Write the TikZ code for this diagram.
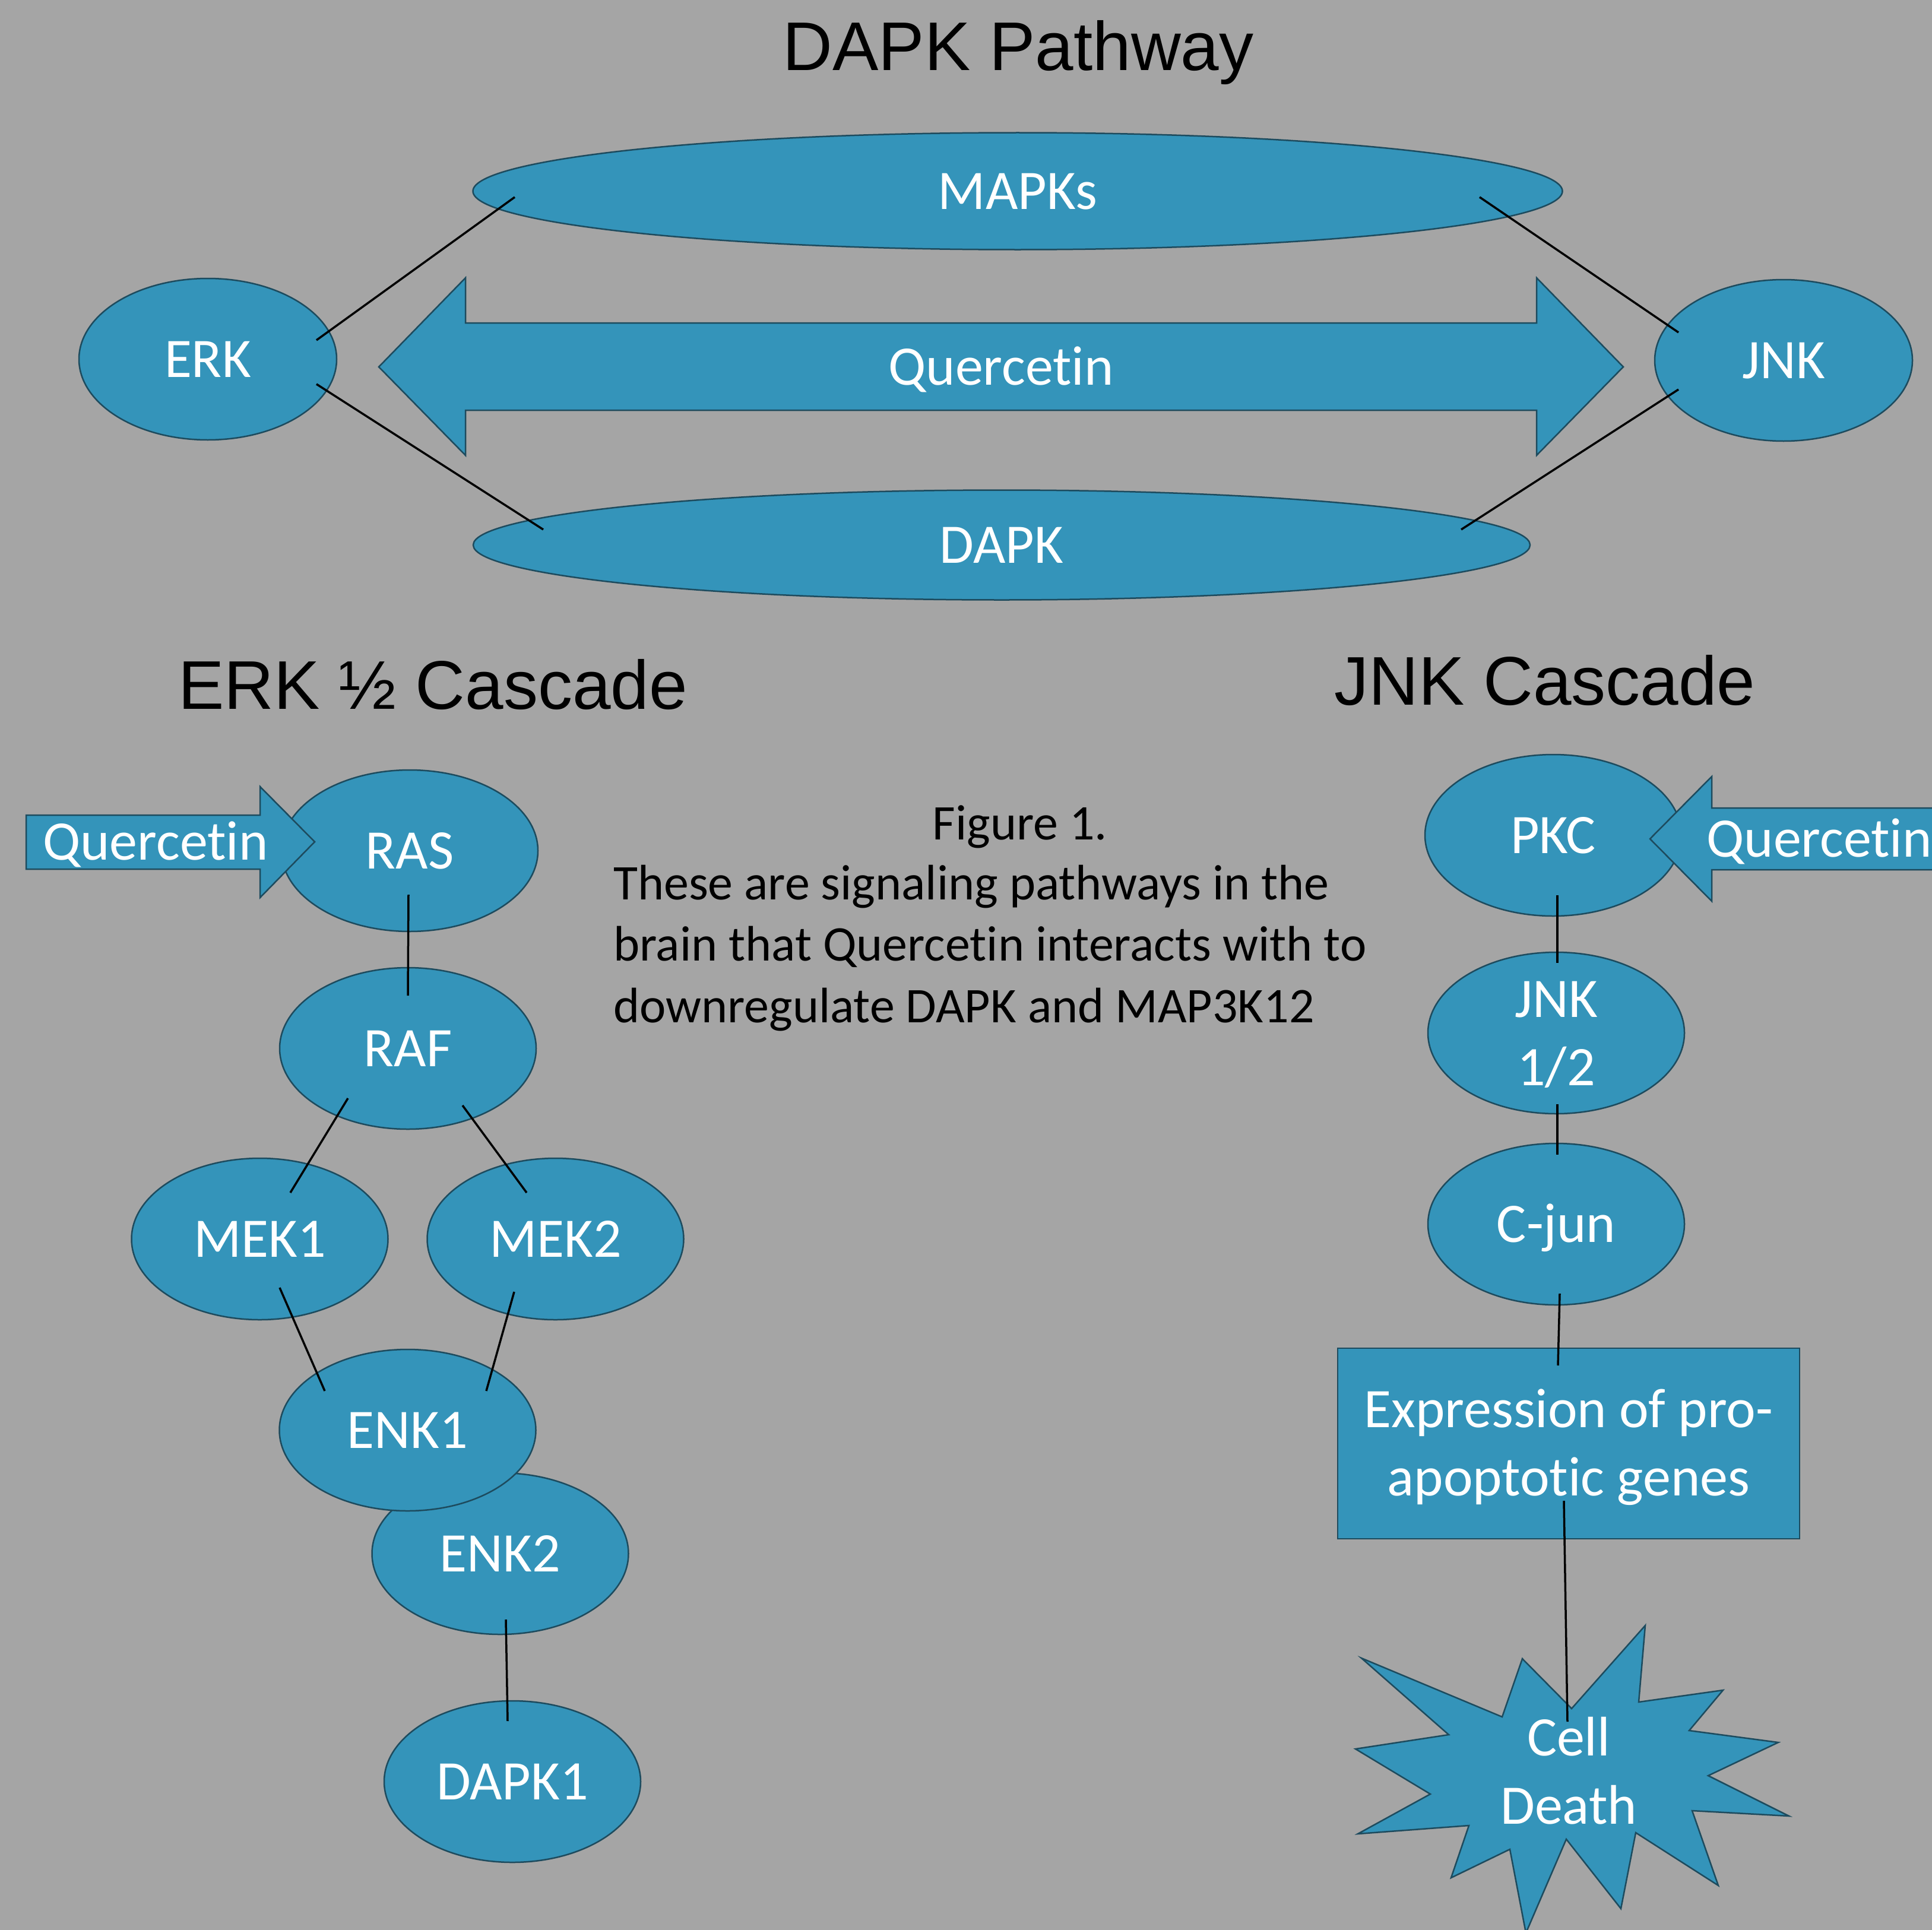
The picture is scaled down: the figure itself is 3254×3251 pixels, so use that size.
\documentclass[tikz,border=0pt]{standalone}
\usepackage{fontspec}
\setmainfont{Carlito}[Ligatures=NoCommon]
\newfontfamily\titlefont{Liberation Sans}
\usetikzlibrary{shapes.geometric}
\definecolor{bg}{HTML}{A5A5A5}
\definecolor{nodefill}{HTML}{3494BA}
\definecolor{nodeedge}{HTML}{1D4B5E}
\begin{document}
\begin{tikzpicture}[x=1pt,y=-1pt,
  shapebase/.style={fill=nodefill, draw=nodeedge, line width=2.5pt},
  shapetext/.style={text=white, font=\fontsize{94}{115}\selectfont, text height=61pt, text depth=0pt, inner sep=0pt},
  oval/.style={shapebase, shapetext, ellipse, minimum width=432pt, minimum height=272pt},
  twoline/.style={align=center, text height=176pt, text depth=0pt},
  titletext/.style={font=\titlefont\fontsize{116}{139}\selectfont, anchor=base, inner sep=0pt},
  captext/.style={font=\fontsize{84}{103.5}\selectfont, inner sep=0pt},
  conn/.style={line width=3.5pt, black}]
\useasboundingbox (0,0) rectangle (3254,3251);
\fill[bg] (0,0) rectangle (3254,3251);

% titles
\node[titletext] (t1) at (1715,119) {DAPK Pathway};
\node[titletext] (t2) at (729,1194) {ERK ½ Cascade};
\node[titletext] (t3) at (2602,1187) {JNK Cascade};

% caption
\node[captext, anchor=base] (fig) at (1718,1414) {Figure 1.};
\node[captext, anchor=base west, align=left] (cap) at (1033,1722)
  {These are signaling pathways in the\\brain that Quercetin interacts with to\\downregulate DAPK and MAP3K12};

% DAPK pathway
\node[oval, minimum width=1835pt, minimum height=197pt] (mapks) at (1714,322) {MAPKs};
\node[oval, minimum width=1780pt, minimum height=185pt] (dapk) at (1687,918) {DAPK};
\node[oval, minimum width=434pt] (erk) at (350,605) {ERK};
\node[oval, minimum width=434pt] (jnk) at (3004,607) {JNK};
\draw[shapebase] (638,618) -- (784,468) -- (784,544) -- (2588,544) -- (2588,468)
  -- (2734,618) -- (2588,767) -- (2588,691) -- (784,691) -- (784,767) -- cycle;
\node[shapetext] (q1) at (1686,618) {Quercetin};

% ERK cascade
\node[oval] (ras) at (690,1433) {RAS};
\draw[shapebase] (44,1373) -- (438,1373) -- (438,1325) -- (530,1418) -- (438,1512)
  -- (438,1464) -- (44,1464) -- cycle;
\node[shapetext] (q2) at (262,1418) {Quercetin};
\node[oval] (raf) at (687,1766) {RAF};
\node[oval] (mek1) at (437.5,2087) {MEK1};
\node[oval] (mek2) at (935.5,2087) {MEK2};
\node[oval] (enk2) at (842.5,2617) {ENK2};
\node[oval] (enk1) at (686.5,2409) {ENK1};
\node[oval] (dapk1) at (863,3001) {DAPK1};

% JNK cascade
\node[oval] (pkc) at (2616,1407) {PKC};
\draw[shapebase] (2779,1413) -- (2883,1308) -- (2883,1361) -- (3320,1361) -- (3320,1465)
  -- (2883,1465) -- (2883,1518) -- cycle;
\node[shapetext] (q3) at (3064,1413) {Quercetin};
\node[oval, twoline] (jnk12) at (2621,1740) {JNK\\1/2};
\node[oval] (cjun) at (2621,2062) {C-jun};
\node[shapebase, shapetext, twoline, rectangle, minimum width=778pt, minimum height=321pt]
  (genes) at (2642,2431.5) {Expression of pro-\\apoptotic genes};
\draw[shapebase] (2771,2738) -- (2760,2867) -- (2902,2847) -- (2845,2915) -- (2995,2935)
  -- (2877,2991) -- (3013,3059) -- (2850,3050) -- (2894,3176) -- (2755,3087)
  -- (2730,3215) -- (2638,3098) -- (2570,3256) -- (2543,3115) -- (2444,3163)
  -- (2474,3075) -- (2287,3089) -- (2409,3022) -- (2283,2946) -- (2440,2922)
  -- (2293,2793) -- (2530,2892) -- (2564,2794) -- (2647,2878) -- cycle;
\node[shapetext, twoline] (death) at (2642,2984.5) {Cell\\Death};

% connectors
\draw[conn] ([shift={(183,-32)}]erk.center) -- ([shift={(-847,10)}]mapks.center);
\draw[conn] ([shift={(183,42)}]erk.center) -- ([shift={(-772,-26)}]dapk.center);
\draw[conn] ([shift={(778,10)}]mapks.center) -- ([shift={(-177,-47)}]jnk.center);
\draw[conn] ([shift={(-177,49)}]jnk.center) -- ([shift={(774,-26)}]dapk.center);
\draw[conn] ([shift={(-2,74)}]ras.center) -- ([shift={(0,-89)}]raf.center);
\draw[conn] ([shift={(-101,84)}]raf.center) -- ([shift={(51.5,-78)}]mek1.center);
\draw[conn] ([shift={(92,96)}]raf.center) -- ([shift={(-48.5,-78)}]mek2.center);
\draw[conn] ([shift={(33.5,82)}]mek1.center) -- ([shift={(-139.5,-66)}]enk1.center);
\draw[conn] ([shift={(-69.5,89)}]mek2.center) -- ([shift={(132.5,-66)}]enk1.center);
\draw[conn] ([shift={(9.5,111)}]enk2.center) -- ([shift={(-8,-102)}]dapk1.center);
\draw[conn] ([shift={(7,101)}]pkc.center) -- ([shift={(2,-118)}]jnk12.center);
\draw[conn] ([shift={(2,120)}]jnk12.center) -- ([shift={(2,-117)}]cjun.center);
\draw[conn] ([shift={(6,117)}]cjun.center) -- ([shift={(-18,-131.5)}]genes.center);
\draw[conn] ([shift={(-8,96.5)}]genes.center) -- ([shift={(-2,-84.5)}]death.center);
\end{tikzpicture}
\end{document}
